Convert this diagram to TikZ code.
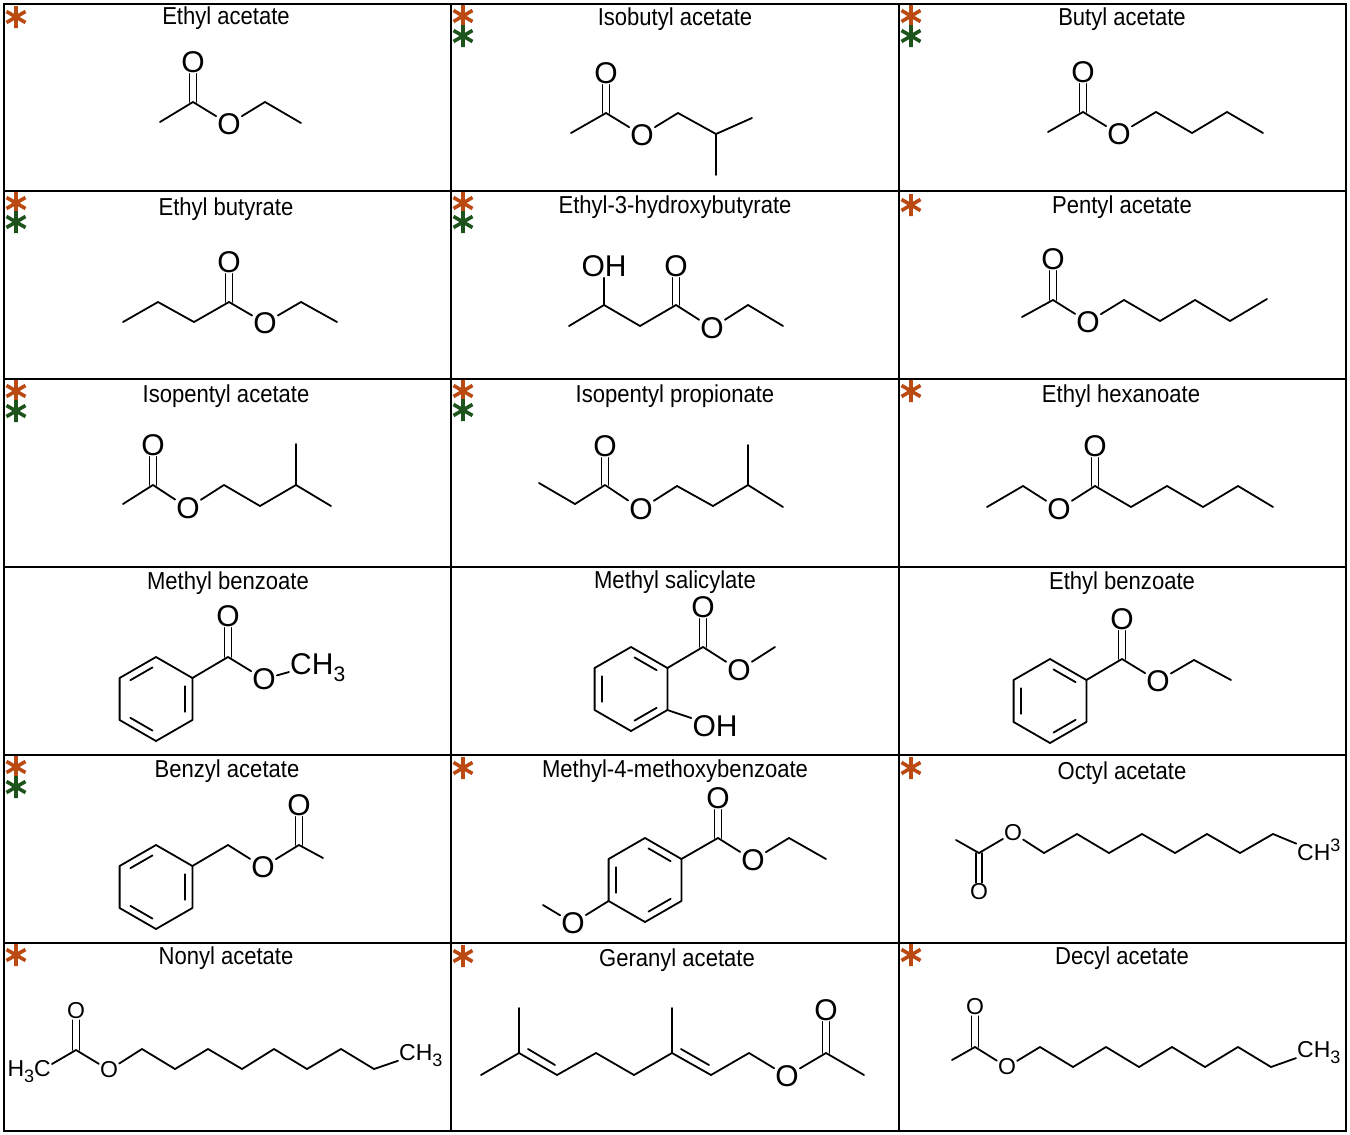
\documentclass[tikz,border=0pt]{standalone}
\usepackage{fontspec}
\setmainfont{Liberation Sans}
\newfontfamily\narrowfont[FakeStretch=0.9]{Liberation Sans}
\usetikzlibrary{calc}
\definecolor{starO}{RGB}{186,74,18}
\definecolor{starG}{RGB}{28,84,28}
\newcommand\atomfont{\fontsize{30}{30}\selectfont}
\newcommand\smallatomfont{\fontsize{23}{23}\selectfont}
\newcommand\ttlfont{\narrowfont\fontsize{24.5}{24.5}\selectfont}
\newcommand\subthree{\smash{\raisebox{-7pt}{\fontsize{21}{21}\selectfont 3}}}
\newcommand\subthreesmall{\smash{\raisebox{-6pt}{\fontsize{18}{18}\selectfont 3}}}
\newcommand\supthreesmall{\smash{\raisebox{9pt}{\fontsize{18}{18}\selectfont 3}}}
\tikzset{
  bond/.style={line width=1.8pt, line cap=round, line join=round},
  atom/.style={font=\atomfont, inner sep=1pt},
  satom/.style={font=\smallatomfont, inner sep=1pt},
  ttl/.style={font=\ttlfont, inner sep=0pt},
  gridline/.style={line width=2.4pt},
}
% vertical C=O double bonds
\newcommand\dbu[2]{\draw[bond] ([xshift=-3.5pt]#1) -- ([xshift=-3.5pt]#2.south); \draw[bond] ([xshift=3.5pt]#1) -- ([xshift=3.5pt]#2.south);}
\newcommand\dbd[2]{\draw[bond] ([xshift=-3pt]#1) -- ([xshift=-3pt]#2.north); \draw[bond] ([xshift=3pt]#1) -- ([xshift=3pt]#2.north);}
% benzene ring, pointy top: 1 top, 2 top-right, 3 bottom-right, 4 bottom, 5 bottom-left, 6 top-left
\newcommand\ring[3]{%
  \coordinate (#1c) at (#2,#3);
  \coordinate (#11) at ($(#1c)+(0,-42)$);
  \coordinate (#12) at ($(#1c)+(36.4,-21)$);
  \coordinate (#13) at ($(#1c)+(36.4,21)$);
  \coordinate (#14) at ($(#1c)+(0,42)$);
  \coordinate (#15) at ($(#1c)+(-36.4,21)$);
  \coordinate (#16) at ($(#1c)+(-36.4,-21)$);
  \draw[bond] (#11) -- (#12) -- (#13) -- (#14) -- (#15) -- (#16) -- cycle;}
\newcommand\inr[3]{\draw[bond, shorten <=4pt, shorten >=4pt] ($(#1c)!0.8!(#1#2)$) -- ($(#1c)!0.8!(#1#3)$);}
\newcommand\astr[3]{\draw[#3, line width=3.6pt] (#1,#2) +(0,-11) -- +(0,11) +(-9.5,-5.5) -- +(9.5,5.5) +(-9.5,5.5) -- +(9.5,-5.5);}
\begin{document}
\begin{tikzpicture}[x=1pt,y=-1pt]
\useasboundingbox (0,0) rectangle (1350,1135);
\fill[white] (0,0) rectangle (1350,1135);
% grid
\draw[gridline] (4,4) rectangle (1346,1131);
\foreach \gx in {451,899} \draw[gridline] (\gx,4) -- (\gx,1131);
\foreach \gy in {191,379,567,755,943} \draw[gridline] (4,\gy) -- (1346,\gy);
% titles
\node[ttl] (tA) at (226,18) {Ethyl acetate};
\node[ttl] (tB) at (675,19) {Isobutyl acetate};
\node[ttl] (tC) at (1122,19) {Butyl acetate};
\node[ttl] (tD) at (226,209) {Ethyl butyrate};
\node[ttl] (tE) at (675,207) {Ethyl-3-hydroxybutyrate};
\node[ttl] (tF) at (1122,207) {Pentyl acetate};
\node[ttl] (tG) at (226,396) {Isopentyl acetate};
\node[ttl] (tH) at (675,396) {Isopentyl propionate};
\node[ttl] (tI) at (1121,396) {Ethyl hexanoate};
\node[ttl] (tJ) at (228,583) {Methyl benzoate};
\node[ttl] (tK) at (675,582) {Methyl salicylate};
\node[ttl] (tL) at (1122,583) {Ethyl benzoate};
\node[ttl] (tM) at (227,771) {Benzyl acetate};
\node[ttl] (tN) at (675,771) {Methyl-4-methoxybenzoate};
\node[ttl] (tP) at (1122,773) {Octyl acetate};
\node[ttl] (tQ) at (226,958) {Nonyl acetate};
\node[ttl] (tR) at (677,960) {Geranyl acetate};
\node[ttl] (tS) at (1122,958) {Decyl acetate};
% stars
\astr{16}{17}{starO}
\astr{463}{16}{starO} \astr{463}{36}{starG}
\astr{911}{16}{starO} \astr{911}{36}{starG}
\astr{16}{203}{starO} \astr{16}{222}{starG}
\astr{463}{203}{starO} \astr{463}{222}{starG}
\astr{911}{205}{starO}
\astr{16}{391}{starO} \astr{16}{411}{starG}
\astr{463}{391}{starO} \astr{463}{410}{starG}
\astr{911}{391}{starO}
\astr{16}{767}{starO} \astr{16}{787}{starG}
\astr{463}{768}{starO}
\astr{911}{768}{starO}
\astr{16}{955}{starO}
\astr{463}{956}{starO}
\astr{911}{955}{starO}
% A Ethyl acetate
\node[atom] (aOd) at (193,62) {O};
\node[atom] (aOe) at (229,124) {O};
\draw[bond] (160,122) coordinate (a1) -- (193,102) coordinate (a2) -- (aOe) -- (265,102) coordinate (a3) -- (301,123) coordinate (a4);
\dbu{a2}{aOd}
% B Isobutyl acetate
\node[atom] (bOd) at (606,73) {O};
\node[atom] (bOe) at (642,135) {O};
\draw[bond] (571,133) coordinate (b1) -- (606,113) coordinate (b2) -- (bOe) -- (678,113) coordinate (b3) -- (716,134) coordinate (b4) -- (752,118) coordinate (b5);
\draw[bond] (b4) -- (716,175) coordinate (b6);
\dbu{b2}{bOd}
% C Butyl acetate
\node[atom] (cOd) at (1083,72) {O};
\node[atom] (cOe) at (1119,134) {O};
\draw[bond] (1048,132) coordinate (c1) -- (1083,112) coordinate (c2) -- (cOe) -- (1156,112) coordinate (c3) -- (1192,133) coordinate (c4) -- (1227,112) coordinate (c5) -- (1263,133) coordinate (c6);
\dbu{c2}{cOd}
% D Ethyl butyrate
\node[atom] (dOd) at (229,262) {O};
\node[atom] (dOe) at (265,323) {O};
\draw[bond] (123,322) coordinate (d1) -- (158,302) coordinate (d2) -- (194,322) coordinate (d3) -- (229,302) coordinate (d4) -- (dOe) -- (301,302) coordinate (d5) -- (337,322) coordinate (d6);
\dbu{d4}{dOd}
% E Ethyl-3-hydroxybutyrate
\node[atom] (eOH) at (604,266) {OH};
\node[atom] (eOd) at (676,266) {O};
\node[atom] (eOe) at (712,328) {O};
\draw[bond] (569,326) coordinate (e1) -- (604,305) coordinate (e2) -- (640,326) coordinate (e3) -- (676,305) coordinate (e4) -- (eOe) -- (748,305) coordinate (e5) -- (783,326) coordinate (e6);
\draw[bond] (e2) -- (eOH);
\dbu{e4}{eOd}
% F Pentyl acetate
\node[atom] (fOd) at (1053,259) {O};
\node[atom] (fOe) at (1088,322) {O};
\draw[bond] (1022,317) coordinate (f1) -- (1053,300) coordinate (f2) -- (fOe) -- (1124,300) coordinate (f3) -- (1160,321) coordinate (f4) -- (1195,300) coordinate (f5) -- (1230,321) coordinate (f6) -- (1267,299) coordinate (f7);
\dbu{f2}{fOd}
% G Isopentyl acetate
\node[atom] (gOd) at (153,445) {O};
\node[atom] (gOe) at (188,508) {O};
\draw[bond] (123,504) coordinate (g1) -- (153,485) coordinate (g2) -- (gOe) -- (224,485) coordinate (g3) -- (260,506) coordinate (g4) -- (296,485) coordinate (g5) -- (331,506) coordinate (g6);
\draw[bond] (g5) -- (296,444) coordinate (g7);
\dbu{g2}{gOd}
% H Isopentyl propionate
\node[atom] (hOd) at (605,446) {O};
\node[atom] (hOe) at (641,509) {O};
\draw[bond] (539,483) coordinate (h1) -- (575,504) coordinate (h2) -- (605,485) coordinate (h3) -- (hOe) -- (677,486) coordinate (h4) -- (713,506) coordinate (h5) -- (748,485) coordinate (h6) -- (783,507) coordinate (h7);
\draw[bond] (h6) -- (748,445) coordinate (h8);
\dbu{h3}{hOd}
% I Ethyl hexanoate
\node[atom] (iOd) at (1095,446) {O};
\node[atom] (iOe) at (1059,509) {O};
\draw[bond] (987,507) coordinate (i1) -- (1023,486) coordinate (i2) -- (iOe) -- (1095,486) coordinate (i3) -- (1131,507) coordinate (i4) -- (1167,486) coordinate (i5) -- (1203,507) coordinate (i6) -- (1238,486) coordinate (i7) -- (1273,507) coordinate (i8);
\dbu{i3}{iOd}
% J Methyl benzoate
\ring{j}{156}{699}
\inr{j}{6}{1} \inr{j}{2}{3} \inr{j}{4}{5}
\node[atom] (jOd) at (228,616) {O};
\node[atom] (jOe) at (264,679) {O};
\node[atom, anchor=west] (jMe) at (289,664) {CH\subthree};
\draw[bond] (j2) -- (228,657) coordinate (jc) -- (jOe) -- (jMe);
\dbu{jc}{jOd}
% K Methyl salicylate
\ring{k}{631}{689}
\inr{k}{1}{2} \inr{k}{5}{6} \inr{k}{3}{4}
\node[atom] (kOd) at (703,607) {O};
\node[atom] (kOe) at (739,670) {O};
\node[atom] (kOH) at (715,726) {OH};
\draw[bond] (k2) -- (703,647) coordinate (kc) -- (kOe) -- (775,647) coordinate (km);
\draw[bond] (k3) -- (kOH);
\dbu{kc}{kOd}
% L Ethyl benzoate
\ring{l}{1050}{701}
\inr{l}{1}{2} \inr{l}{5}{6} \inr{l}{3}{4}
\node[atom] (lOd) at (1122,619) {O};
\node[atom] (lOe) at (1158,681) {O};
\draw[bond] (l2) -- (1122,659) coordinate (lc) -- (lOe) -- (1194,660) coordinate (l7) -- (1231,680) coordinate (l8);
\dbu{lc}{lOd}
% M Benzyl acetate
\ring{m}{156}{887}
\inr{m}{6}{1} \inr{m}{2}{3} \inr{m}{4}{5}
\node[atom] (mOd) at (299,805) {O};
\node[atom] (mOe) at (263,867) {O};
\draw[bond] (m2) -- (228,845) coordinate (m7) -- (mOe) -- (299,845) coordinate (mc) -- (323,858) coordinate (m8);
\dbu{mc}{mOd}
% N Methyl-4-methoxybenzoate
\ring{n}{645}{880}
\inr{n}{1}{2} \inr{n}{5}{6} \inr{n}{3}{4}
\node[atom] (nOd) at (718,798) {O};
\node[atom] (nOe) at (753,860) {O};
\node[atom] (nOm) at (573,923) {O};
\draw[bond] (n2) -- (718,838) coordinate (nc) -- (nOe) -- (789,838) coordinate (n7) -- (826,859) coordinate (n8);
\draw[bond] (n5) -- (nOm) -- (543,905) coordinate (n9);
\dbu{nc}{nOd}
% P Octyl acetate
\node[satom] (pOd) at (979,892) {O};
\node[satom] (pOe) at (1013,833) {O};
\node[satom, anchor=west] (pMe) at (1296,853) {CH\supthreesmall};
\draw[bond] (956,840) coordinate (p1) -- (979,853) coordinate (pc) -- (pOe) -- (1044,853) -- (1077,834) -- (1109,853) -- (1142,834) -- (1175,853) -- (1207,834) -- (1240,853) -- (1273,834) coordinate (pz) -- (pMe);
\dbd{pc}{pOd}
% Q Nonyl acetate
\node[satom, anchor=east] (qH) at (52,1069) {H\subthreesmall C};
\node[satom] (qOd) at (76,1011) {O};
\node[satom] (qOe) at (109,1070) {O};
\node[satom, anchor=west] (qMe) at (398,1053) {CH\subthreesmall};
\draw[bond] ([yshift=5pt]qH.east) -- (76,1050) coordinate (qc) -- (qOe) -- (142,1049) -- (175,1069) -- (208,1049) -- (242,1069) -- (274,1049) -- (307,1069) -- (341,1049) -- (374,1069) coordinate (qz) -- (qMe);
\dbu{qc}{qOd}
% R Geranyl acetate
\node[atom] (rOd) at (826,1010) {O};
\node[atom] (rOe) at (787,1076) {O};
\draw[bond] (481,1075) coordinate (r1) -- (519,1053) coordinate (r2) -- (557,1075) coordinate (r3) -- (596,1053) coordinate (r4) -- (634,1075) coordinate (r5) -- (672,1053) coordinate (r6) -- (711,1075) coordinate (r7) -- (749,1053) coordinate (r8) -- (rOe) -- (826,1053) coordinate (rc) -- (864,1075) coordinate (r9);
\draw[bond] (r2) -- (519,1008);
\draw[bond] (r6) -- (672,1008);
\draw[bond] (528,1049) -- (555,1065);
\draw[bond] (681,1049) -- (709,1065);
\dbu{rc}{rOd}
% S Decyl acetate
\node[satom] (sOd) at (975,1007) {O};
\node[satom] (sOe) at (1007,1067) {O};
\node[satom, anchor=west] (sMe) at (1296,1050) {CH\subthreesmall};
\draw[bond] (952,1060) coordinate (s1) -- (975,1047) coordinate (sc) -- (sOe) -- (1040,1047) -- (1073,1067) -- (1106,1047) -- (1139,1067) -- (1172,1047) -- (1205,1067) -- (1238,1047) -- (1271,1067) coordinate (sz) -- (sMe);
\dbu{sc}{sOd}
\end{tikzpicture}
\end{document}
